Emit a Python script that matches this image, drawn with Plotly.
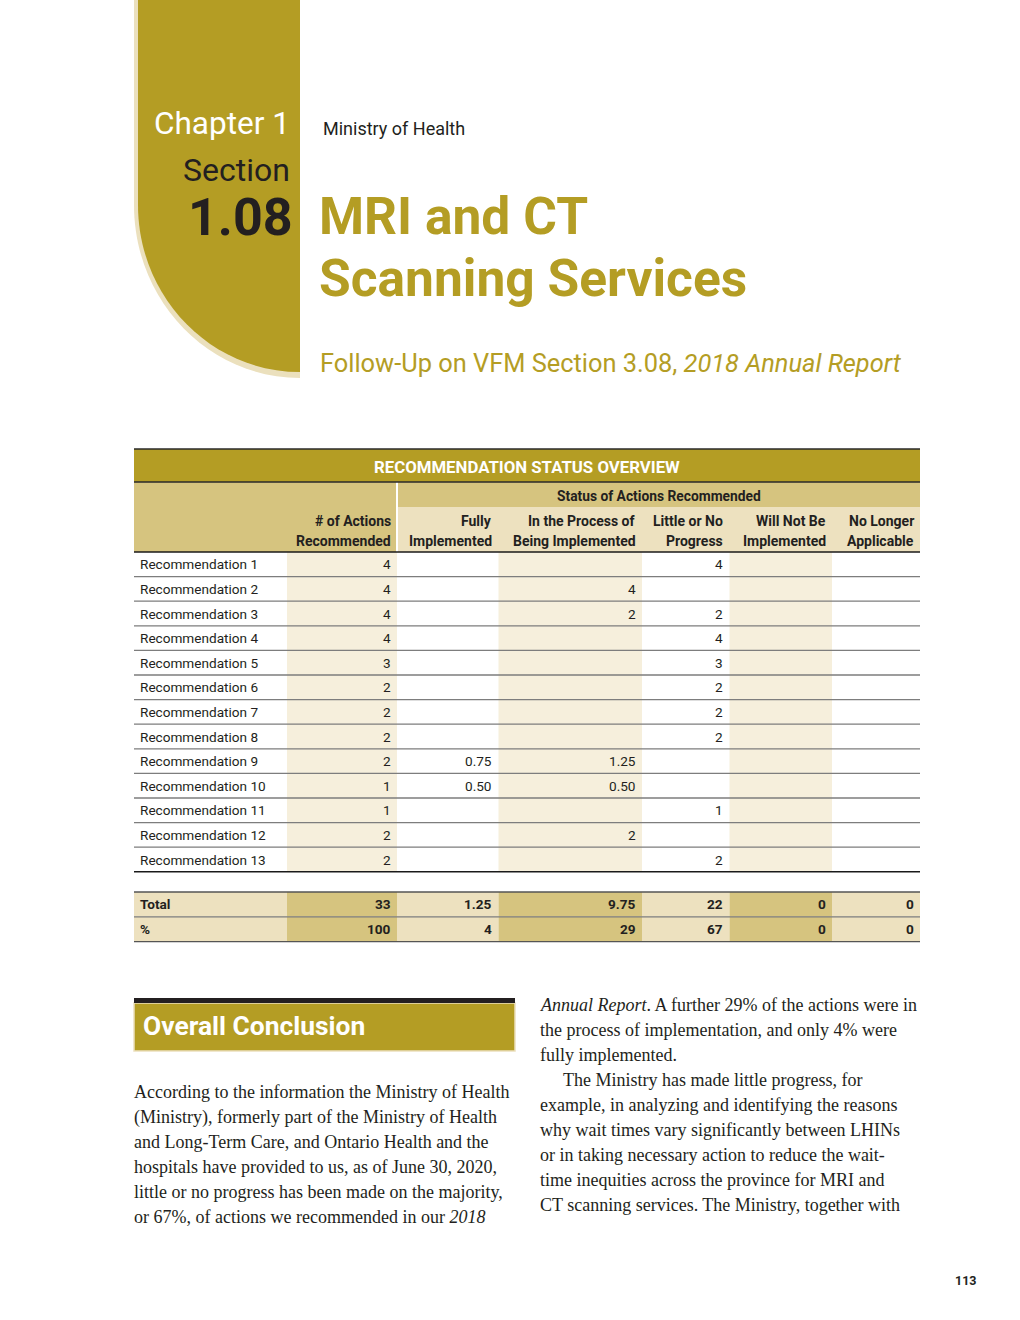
import plotly.graph_objects as go

# ---------------- data ----------------
recommendations = ["Recommendation 1", "Recommendation 2", "Recommendation 3", "Recommendation 4",
                   "Recommendation 5", "Recommendation 6", "Recommendation 7", "Recommendation 8",
                   "Recommendation 9", "Recommendation 10", "Recommendation 11", "Recommendation 12",
                   "Recommendation 13"]
actions_recommended = [4, 4, 4, 4, 3, 2, 2, 2, 2, 1, 1, 2, 2]
fully_implemented = [None, None, None, None, None, None, None, None, 0.75, 0.50, None, None, None]
in_process = [None, 4, 2, None, None, None, None, None, 1.25, 0.50, None, 2, None]
little_or_no_progress = [4, None, 2, 4, 3, 2, 2, 2, None, None, 1, None, 2]
will_not_be_implemented = [None] * 13
no_longer_applicable = [None] * 13
summary_labels = ["Total", "%"]
total_row = [33, 1.25, 9.75, 22, 0, 0]
percent_row = [100, 4, 29, 67, 0, 0]
column_headers = [("# of Actions", "Recommended"), ("Fully", "Implemented"),
                  ("In the Process of", "Being Implemented"), ("Little or No", "Progress"),
                  ("Will Not Be", "Implemented"), ("No Longer", "Applicable")]
table_title = "RECOMMENDATION STATUS OVERVIEW"
status_header = "Status of Actions Recommended"

left_paragraph = [
    "According to the information the Ministry of Health",
    "(Ministry), formerly part of the Ministry of Health",
    "and Long-Term Care, and Ontario Health and the",
    "hospitals have provided to us, as of June 30, 2020,",
    "little or no progress has been made on the majority,",
    "or 67%, of actions we recommended in our <i>2018</i>",
]
right_paragraph = [
    "<i>Annual Report</i>. A further 29% of the actions were in",
    "the process of implementation, and only 4% were",
    "fully implemented.",
    "The Ministry has made little progress, for",
    "example, in analyzing and identifying the reasons",
    "why wait times vary significantly between LHINs",
    "or in taking necessary action to reduce the wait-",
    "time inequities across the province for MRI and",
    "CT scanning services. The Ministry, together with",
]

# ---------------- style / layout ----------------
GOLD = "#b49d24"
BEIGE_DARK = "#d6c47f"
BEIGE_MID = "#ede1bf"
BEIGE_LIGHT = "#f6efdc"
BEIGE_EDGE = "#ebe0bd"
INK = "#231f20"
COND = "Roboto, Liberation Sans, sans-serif"
SERIF = "Liberation Serif, DejaVu Serif, serif"

col_edges = [134, 287, 397, 498.5, 642, 729.5, 832, 920]
shaded_cols = [1, 3, 5]
header_top, title_bottom, status_bottom, header_bottom = 449, 482, 507, 552
row_h = 24.6
total_top, total_h = 892, 24.8
pad = 4.5

fig = go.Figure()
fig.add_trace(go.Scatter(x=[0], y=[0], mode="markers", marker=dict(opacity=0), hoverinfo="skip"))

shapes = []
ann = []


def rect(x0, y0, x1, y1, fill, line_color=None, lw=0):
    shapes.append(dict(type="rect", xref="x", yref="y", x0=x0, y0=y0, x1=x1, y1=y1,
                       fillcolor=fill, line=dict(width=lw, color=line_color or fill), layer="below"))


def hline(y, x0, x1, color, w):
    shapes.append(dict(type="line", xref="x", yref="y", x0=x0, x1=x1, y0=y, y1=y,
                       line=dict(color=color, width=w), layer="above"))


def text(x, y, s, size, color=INK, family=COND, xanchor="left", weight="normal", style="normal"):
    ann.append(dict(xref="x", yref="y", x=x, y=y, text=s, showarrow=False, xanchor=xanchor,
                    yanchor="middle", font=dict(size=size, color=color, family=family,
                                                weight=weight, style=style)))


def fmt(v):
    if v is None:
        return ""
    if float(v).is_integer():
        return str(int(v))
    return f"{v:.2f}"


# ----- chapter tab -----
shapes.append(dict(type="path", xref="x", yref="y",
                   path="M134,0 L300,0 L300,378 C208.3,378 134,300.5 134,205 Z",
                   fillcolor=BEIGE_EDGE, line=dict(width=0), layer="below"))
shapes.append(dict(type="path", xref="x", yref="y",
                   path="M138,0 L300,0 L300,372 C210.5,372 138,297 138,205 Z",
                   fillcolor=GOLD, line=dict(width=0), layer="below"))

text(292, 123, "Chapter 1", 31.5, color="white", xanchor="right")
text(292, 170, "Section", 32, xanchor="right")
text(295, 217, "1.08", 52, xanchor="right", weight="bold")
text(321, 128, "Ministry of Health", 18)
text(317, 216, "MRI and CT", 51.5, color=GOLD, weight="bold")
text(317, 278, "Scanning Services", 51.5, color=GOLD, weight="bold")
text(318, 363, "Follow-Up on VFM Section 3.08, <i>2018 Annual Report</i>", 25.4, color=GOLD)

# ----- table backgrounds -----
x_left, x_right = col_edges[0], col_edges[-1]
rect(x_left, header_top, x_right, title_bottom, GOLD)
rect(x_left, title_bottom, col_edges[2], header_bottom, BEIGE_DARK)
rect(col_edges[2], title_bottom, x_right, status_bottom, BEIGE_DARK)
rect(col_edges[2], status_bottom, x_right, header_bottom, BEIGE_MID)
shapes.append(dict(type="line", xref="x", yref="y", x0=col_edges[2], x1=col_edges[2],
                   y0=title_bottom, y1=header_bottom, line=dict(color="white", width=2)))

n = len(recommendations)
body_bottom = header_bottom + n * row_h
for c in shaded_cols:
    rect(col_edges[c], header_bottom, col_edges[c + 1], body_bottom, BEIGE_LIGHT)

for r in range(2):
    y0 = total_top + r * total_h
    for c in range(len(col_edges) - 1):
        rect(col_edges[c], y0, col_edges[c + 1], y0 + total_h, BEIGE_DARK if c in shaded_cols else BEIGE_MID)

# ----- table lines -----
hline(header_top, x_left, x_right, "#2a2a2a", 1.6)
hline(title_bottom, x_left, x_right, "#2a2a2a", 1.4)
hline(header_bottom, x_left, x_right, "#1a1a1a", 1.6)
for i in range(1, n):
    hline(header_bottom + i * row_h, x_left, x_right, "#7d7d7d", 1.3)
hline(body_bottom, x_left, x_right, "#1a1a1a", 1.5)
hline(total_top, x_left, x_right, "#555555", 1.6)
hline(total_top + total_h, x_left, x_right, "#7d7d7d", 1.3)
hline(total_top + 2 * total_h, x_left, x_right, "#555555", 1.4)

# ----- table text -----
text((x_left + x_right) / 2, (header_top + title_bottom) / 2 + 1, table_title, 16.8, color="white",
     xanchor="center", weight="bold")
text((col_edges[2] + x_right) / 2, (title_bottom + status_bottom) / 2 + 1, status_header, 13.8,
     xanchor="center", weight="bold")
for c, (l1, l2) in enumerate(column_headers):
    xr = col_edges[c + 2] - pad
    text(xr, 521, l1, 14, xanchor="right", weight="bold")
    text(xr, 541, l2, 14, xanchor="right", weight="bold")

series = [actions_recommended, fully_implemented, in_process, little_or_no_progress,
          will_not_be_implemented, no_longer_applicable]
for i, lab in enumerate(recommendations):
    yc = header_bottom + (i + 0.5) * row_h
    text(col_edges[0] + 4, yc, lab, 13.6)
    for c, s in enumerate(series):
        v = fmt(s[i])
        if v:
            text(col_edges[c + 2] - pad, yc, v, 13.6, xanchor="right")

for r, (lab, vals) in enumerate(zip(summary_labels, [total_row, percent_row])):
    yc = total_top + (r + 0.5) * total_h
    text(col_edges[0] + 4, yc, lab, 13.6, weight="bold")
    for c, v in enumerate(vals):
        text(col_edges[c + 2] - pad, yc, fmt(v), 13.6, xanchor="right", weight="bold")

# ----- Overall Conclusion -----
rect(134, 1003, 515, 1051, GOLD, line_color=BEIGE_EDGE, lw=1.5)
rect(134, 998, 515, 1003, "#231f20")
text(141, 1026, "Overall Conclusion", 26.4, color="white", weight="bold")

for i, line in enumerate(left_paragraph):
    text(132, 1092 + i * 25, line, 18, family=SERIF)
for i, line in enumerate(right_paragraph):
    text(561 if i == 3 else 538, 1005 + i * 25, line, 18, family=SERIF)

text(979, 1280, "113", 12.5, xanchor="right", weight="bold")

fig.update_layout(
    width=1020, height=1320, margin=dict(l=0, r=0, t=0, b=0),
    paper_bgcolor="white", plot_bgcolor="white", showlegend=False,
    xaxis=dict(range=[0, 1020], visible=False, fixedrange=True),
    yaxis=dict(range=[1320, 0], visible=False, fixedrange=True),
    shapes=shapes, annotations=ann,
)
fig.write_html("out.html", config={"displayModeBar": False},
               post_script="document.body.style.margin='0';")
